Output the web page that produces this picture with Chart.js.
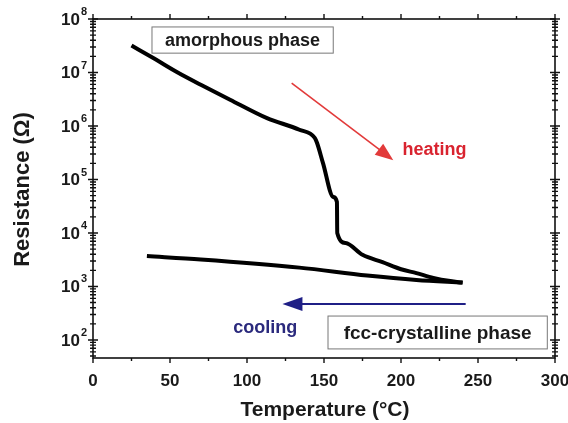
<!DOCTYPE html>
<html>
<head>
<meta charset="utf-8">
<script src="https://cdn.jsdelivr.net/npm/chart.js@4"></script>
<style>
  html, body { margin: 0; padding: 0; background: #fff; }
  #wrap { width: 568px; height: 423px; position: relative; }
</style>
</head>
<body>
<div id="wrap"><canvas id="resChart"></canvas></div>
<script>
// ----------------- Data -----------------
const heatTemp = [25, 40, 55, 70, 89, 113, 134, 144, 145.5, 149.4, 156, 158.4, 158.6, 164, 175, 188, 200, 210, 221, 232, 240];
const heatRes  = [3.2e7, 1.8e7, 1.0e7, 5.9e6, 3.1e6, 1.4e6, 8.5e5, 6.0e5, 4.8e5, 2.0e5, 4.7e4, 3.8e4, 1.0e4, 6.5e3, 3.9e3, 2.85e3, 2.1e3, 1.78e3, 1.45e3, 1.26e3, 1.18e3];
const coolTemp = [35, 70, 134, 178, 210, 240];
const coolRes  = [3.7e3, 3.2e3, 2.25e3, 1.6e3, 1.32e3, 1.18e3];

const xTicks = [0, 50, 100, 150, 200, 250, 300];
const yExponents = [2, 3, 4, 5, 6, 7, 8];

const FONT = '"Liberation Sans", Arial, Helvetica, sans-serif';

// ----------------- Frame, ticks, labels, annotations -----------------
const decorPlugin = {
  id: 'decor',
  afterDatasetsDraw(chart) {
    const { ctx, chartArea: a, scales: { x, y } } = chart;
    const px = v => x.getPixelForValue(v);
    const py = v => y.getPixelForValue(v);
    ctx.save();

    // frame
    ctx.strokeStyle = '#111';
    ctx.lineWidth = 1.6;
    ctx.strokeRect(a.left, a.top, a.right - a.left, a.bottom - a.top);

    // x ticks (bottom + top, outward)
    ctx.lineWidth = 1.4;
    for (let t = 0; t <= 300; t += 25) {
      const len = t % 50 === 0 ? 5 : 3;
      const xx = px(t);
      ctx.beginPath();
      ctx.moveTo(xx, a.bottom); ctx.lineTo(xx, a.bottom + len);
      ctx.moveTo(xx, a.top); ctx.lineTo(xx, a.top - len);
      ctx.stroke();
    }

    // y ticks (left + right, crossing the axis)
    for (let e = 1; e <= 8; e++) {
      for (let m = 1; m <= 9; m++) {
        const v = m * Math.pow(10, e);
        if (v < y.min || v > y.max) continue;
        const yy = py(v);
        const len = m === 1 ? 5 : 3;
        ctx.beginPath();
        ctx.moveTo(a.left - len, yy); ctx.lineTo(a.left + len, yy);
        ctx.moveTo(a.right - len, yy); ctx.lineTo(a.right + len, yy);
        ctx.stroke();
      }
    }

    // x tick labels
    ctx.fillStyle = '#1a1a1a';
    ctx.font = 'bold 17px ' + FONT;
    ctx.textAlign = 'center';
    ctx.textBaseline = 'middle';
    xTicks.forEach(t => ctx.fillText(String(t), px(t), a.bottom + 23));

    // y tick labels with superscript exponent
    yExponents.forEach(e => {
      const yy = py(Math.pow(10, e));
      ctx.font = 'bold 11px ' + FONT;
      const ew = ctx.measureText(String(e)).width;
      ctx.textAlign = 'left';
      ctx.fillText(String(e), a.left - 6 - ew, yy - 7);
      ctx.font = 'bold 17px ' + FONT;
      ctx.textAlign = 'right';
      ctx.fillText('10', a.left - 7 - ew, yy + 1);
    });

    // axis titles
    ctx.font = 'bold 21px ' + FONT;
    ctx.textAlign = 'center';
    ctx.fillText('Temperature (°C)', (a.left + a.right) / 2 + 1, a.bottom + 52);
    ctx.save();
    ctx.translate(23, (a.top + a.bottom) / 2 + 1);
    ctx.rotate(-Math.PI / 2);
    ctx.font = 'bold 22px ' + FONT;
    ctx.fillText('Resistance (Ω)', 0, 0);
    ctx.restore();

    // labelled boxes
    const box = (t0, r0, t1, r1, text, size) => {
      const x0 = px(t0), x1 = px(t1), y0 = py(r0), y1 = py(r1);
      ctx.fillStyle = '#fff';
      ctx.fillRect(x0, y0, x1 - x0, y1 - y0);
      ctx.strokeStyle = '#777';
      ctx.lineWidth = 1;
      ctx.strokeRect(x0, y0, x1 - x0, y1 - y0);
      ctx.fillStyle = '#1a1a1a';
      ctx.font = 'bold ' + size + 'px ' + FONT;
      ctx.textAlign = 'center';
      ctx.fillText(text, (x0 + x1) / 2, (y0 + y1) / 2 + 1);
    };
    box(38.3, 7.1e7, 156, 2.3e7, 'amorphous phase', 18);
    box(152.6, 2.8e2, 295, 68, 'fcc-crystalline phase', 19);

    // arrows
    const arrow = (t0, r0, t1, r1, color, w, hl, hw) => {
      const x0 = px(t0), y0 = py(r0), x1 = px(t1), y1 = py(r1);
      const ang = Math.atan2(y1 - y0, x1 - x0);
      ctx.strokeStyle = color;
      ctx.fillStyle = color;
      ctx.lineWidth = w;
      ctx.beginPath();
      ctx.moveTo(x0, y0);
      ctx.lineTo(x1 - Math.cos(ang) * hl * 0.8, y1 - Math.sin(ang) * hl * 0.8);
      ctx.stroke();
      ctx.beginPath();
      ctx.moveTo(x1, y1);
      ctx.lineTo(x1 - Math.cos(ang) * hl - Math.sin(ang) * hw, y1 - Math.sin(ang) * hl + Math.cos(ang) * hw);
      ctx.lineTo(x1 - Math.cos(ang) * hl + Math.sin(ang) * hw, y1 - Math.sin(ang) * hl - Math.cos(ang) * hw);
      ctx.closePath();
      ctx.fill();
    };
    arrow(129, 6.3e6, 195, 2.3e5, '#e23a3a', 1.6, 18, 7);
    arrow(242, 470, 123, 470, '#1f1f86', 2, 20, 7);

    ctx.font = 'bold 18px ' + FONT;
    ctx.textAlign = 'left';
    ctx.fillStyle = '#d9232f';
    ctx.fillText('heating', px(201), py(3.5e5));
    ctx.fillStyle = '#2b2a7d';
    ctx.fillText('cooling', px(91), py(166));

    ctx.restore();
  }
};

// ----------------- Chart -----------------
const ctx = document.getElementById('resChart').getContext('2d');
new Chart(ctx, {
  type: 'line',
  data: {
    datasets: [
      {
        label: 'heating',
        data: heatTemp.map((t, i) => ({ x: t, y: heatRes[i] })),
        borderColor: '#000',
        borderWidth: 4,
        pointRadius: 0,
        cubicInterpolationMode: 'monotone'
      },
      {
        label: 'cooling',
        data: coolTemp.map((t, i) => ({ x: t, y: coolRes[i] })),
        borderColor: '#000',
        borderWidth: 4,
        pointRadius: 0,
        cubicInterpolationMode: 'monotone'
      }
    ]
  },
  options: {
    responsive: true,
    maintainAspectRatio: false,
    animation: false,
    layout: { padding: { top: 19, right: 13, left: 0, bottom: 0 } },
    plugins: {
      legend: { display: false },
      tooltip: { enabled: false }
    },
    scales: {
      x: {
        type: 'linear',
        min: 0,
        max: 300,
        grid: { display: false },
        border: { display: false },
        ticks: { display: false },
        afterFit: s => { s.height = 65; }
      },
      y: {
        type: 'logarithmic',
        min: 46,
        max: 1e8,
        grid: { display: false },
        border: { display: false },
        ticks: { display: false },
        afterFit: s => { s.width = 93; }
      }
    }
  },
  plugins: [decorPlugin]
});
</script>
</body>
</html>
